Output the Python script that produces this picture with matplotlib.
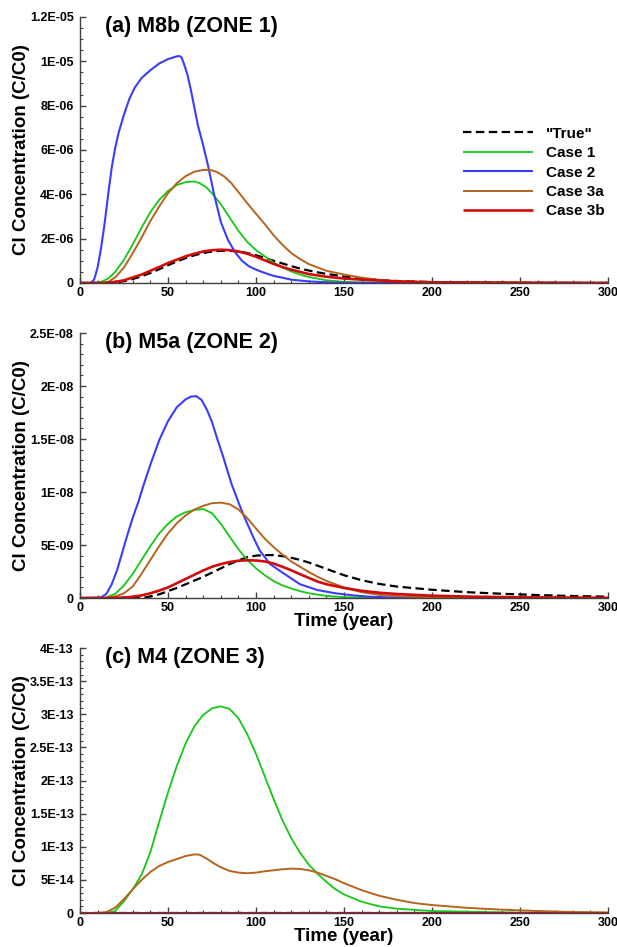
import numpy as np
import matplotlib
matplotlib.use('Agg')
import matplotlib.pyplot as plt
from matplotlib.ticker import MultipleLocator, FuncFormatter

plt.rcParams['font.family'] = ['Liberation Sans', 'DejaVu Sans']
plt.rcParams['font.weight'] = 'bold'

# ---------------- panel (a) M8b (ZONE 1), values in 1E-06
t_true_a = [0,18,25,30,35,40,45,50,55,60,65,70,75,80,85,90,95,100,105,110,115,120,125,130,135,140,150,160,170,180,200,250,300]
v_true_a = [0,0,0.08,0.18,0.3,0.45,0.62,0.8,0.97,1.12,1.25,1.35,1.42,1.45,1.45,1.42,1.35,1.25,1.13,1.0,0.88,0.76,0.65,0.56,0.48,0.41,0.29,0.2,0.13,0.09,0.04,0.01,0]
t_c1_a = [0,8,12,16,20,25,30,35,40,45,50,55,60,65,68,72,76,80,85,90,95,100,105,110,115,120,125,130,140,150,160,200,300]
v_c1_a = [0,0,0.05,0.2,0.5,1.05,1.75,2.5,3.2,3.75,4.15,4.42,4.55,4.58,4.5,4.3,3.95,3.55,2.95,2.35,1.85,1.48,1.2,0.92,0.7,0.52,0.38,0.27,0.12,0.05,0.02,0,0]
t_c2_a = [0,6,8,10,12,14,16,18,20,22,25,28,31,35,40,45,50,54,56,57.5,59,61,63,65,67,70,73,76,80,84,88,92,96,100,105,110,120,130,140,150,200,300]
v_c2_a = [0,0,0.15,0.7,1.6,2.7,4.0,5.2,6.1,6.8,7.6,8.3,8.8,9.25,9.6,9.9,10.1,10.2,10.24,10.2,9.9,9.4,8.7,7.9,7.1,6.2,5.2,4.05,2.75,1.95,1.4,1.0,0.75,0.6,0.45,0.32,0.15,0.07,0.03,0.01,0,0]
t_c3a_a = [0,12,16,20,25,30,35,40,45,50,55,60,65,70,74,78,82,86,90,95,100,105,110,115,120,125,130,140,150,160,170,180,200,250,300]
v_c3a_a = [0,0,0.05,0.25,0.7,1.35,2.05,2.8,3.45,4.05,4.5,4.82,5.02,5.1,5.1,5.0,4.8,4.5,4.1,3.6,3.12,2.65,2.15,1.72,1.35,1.08,0.85,0.55,0.38,0.24,0.14,0.08,0.03,0.01,0]
t_c3b_a = [0,14,20,25,30,35,40,45,50,55,60,65,70,75,80,85,90,95,100,105,110,115,120,125,130,140,150,160,170,180,200,250,300]
v_c3b_a = [0,0,0.05,0.12,0.25,0.38,0.55,0.72,0.9,1.05,1.2,1.32,1.42,1.48,1.5,1.48,1.42,1.32,1.18,1.02,0.86,0.72,0.6,0.5,0.4,0.28,0.2,0.15,0.11,0.07,0.03,0.01,0]

# ---------------- panel (b) M5a (ZONE 2), values in 1E-09
t_true_b = [0,35,40,45,50,55,60,65,70,75,80,85,90,95,100,105,110,115,120,125,130,135,140,150,160,170,180,200,220,240,260,280,300]
v_true_b = [0,0,0.15,0.35,0.65,0.95,1.3,1.65,2.0,2.4,2.8,3.2,3.55,3.85,4.0,4.05,4.05,3.95,3.8,3.6,3.35,3.05,2.75,2.15,1.68,1.33,1.08,0.78,0.55,0.4,0.28,0.19,0.13]
t_c1_b = [0,14,20,25,30,35,40,45,50,55,60,65,70,75,80,85,90,95,100,105,110,115,120,125,130,140,150,160,200,300]
v_c1_b = [0,0,0.4,1.2,2.3,3.6,4.9,6.1,7.0,7.7,8.1,8.3,8.4,8.0,7.0,5.8,4.6,3.6,2.8,2.15,1.6,1.2,0.9,0.65,0.45,0.2,0.08,0.03,0,0]
t_c2_b = [0,12,15,18,21,24,27,30,33,36,40,45,50,55,60,63,66,69,72,75,78,81,86,91,94,98,102,108,115,125,135,145,155,165,180,200,300]
v_c2_b = [0,0.05,0.4,1.3,2.6,4.3,6.0,7.6,9.0,10.6,12.6,14.9,16.7,18.0,18.75,19.0,19.05,18.7,17.8,16.6,15.0,13.5,10.8,8.6,7.4,5.9,4.5,3.2,2.4,1.3,0.75,0.45,0.25,0.12,0.04,0,0]
t_c3a_b = [0,14,20,25,30,35,40,45,50,55,60,65,70,75,80,85,90,95,100,105,110,115,120,125,130,135,140,145,150,160,170,180,190,200,250,300]
v_c3a_b = [0,0,0.15,0.45,1.1,2.3,3.6,4.9,6.1,7.05,7.8,8.35,8.7,8.95,9.0,8.85,8.35,7.55,6.55,5.6,4.8,4.1,3.45,2.95,2.45,2.0,1.62,1.3,1.0,0.55,0.3,0.18,0.12,0.08,0.02,0]
t_c3b_b = [0,18,25,30,35,40,45,50,55,60,65,70,75,80,85,90,95,100,105,110,115,120,125,130,135,140,150,160,170,180,200,225,250,275,300]
v_c3b_b = [0,0,0.05,0.12,0.25,0.45,0.7,1.0,1.4,1.8,2.2,2.6,2.95,3.2,3.4,3.52,3.56,3.54,3.45,3.25,2.95,2.62,2.25,1.9,1.55,1.3,0.95,0.68,0.5,0.38,0.22,0.12,0.07,0.04,0.02]

# ---------------- panel (c) M4 (ZONE 3), values in 1E-14
t_true_c = [0,300]
v_true_c = [0,0]
t_c1_c = [0,15,20,25,30,35,40,45,50,55,60,65,70,75,80,85,90,95,100,105,110,115,120,125,130,135,140,145,150,160,170,180,200,250,300]
v_c1_c = [0,0,0.3,1.8,3.6,5.8,9.2,13.8,18.2,22.2,25.6,28.2,29.9,30.9,31.2,30.8,29.4,27.0,24.0,20.6,17.2,14.0,11.3,9.1,7.3,5.9,4.7,3.6,2.8,1.7,1.0,0.65,0.3,0.05,0]
t_c2_c = [0,300]
v_c2_c = [0,0]
t_c3a_c = [0,10,15,20,25,30,35,40,45,50,55,60,65,68,72,76,80,85,90,95,100,105,110,115,120,125,130,135,140,145,150,160,170,180,190,200,220,240,260,280,300]
v_c3a_c = [0,0,0.15,0.8,2.1,3.6,5.0,6.2,7.1,7.7,8.15,8.6,8.85,8.8,8.2,7.5,6.9,6.35,6.1,6.0,6.1,6.3,6.45,6.6,6.7,6.65,6.45,6.1,5.6,5.1,4.5,3.45,2.6,2.0,1.5,1.2,0.78,0.5,0.3,0.15,0.08]
t_c3b_c = [0,300]
v_c3b_c = [0,0]

labels = ['"True"', 'Case 1', 'Case 2', 'Case 3a', 'Case 3b']
colores = ['black', '#14c814', '#3c3cff', '#b4641e', '#d20a0a']
anchos = [1.6, 1.3, 1.5, 1.4, 1.9]

paneles = [
    ('(a) M8b (ZONE 1)', 1e-6, 1.2e-5, 2e-6, 5e-7,
     [(t_true_a, v_true_a), (t_c1_a, v_c1_a), (t_c2_a, v_c2_a), (t_c3a_a, v_c3a_a), (t_c3b_a, v_c3b_a)],
     [0.1297, 0.7012, 0.8558, 0.2809]),
    ('(b) M5a (ZONE 2)', 1e-9, 2.5e-8, 5e-9, 1e-9,
     [(t_true_b, v_true_b), (t_c1_b, v_c1_b), (t_c2_b, v_c2_b), (t_c3a_b, v_c3a_b), (t_c3b_b, v_c3b_b)],
     [0.1297, 0.3685, 0.8558, 0.2798]),
    ('(c) M4 (ZONE 3)', 1e-14, 4e-13, 5e-14, 1e-14,
     [(t_true_c, v_true_c), (t_c1_c, v_c1_c), (t_c2_c, v_c2_c), (t_c3a_c, v_c3a_c), (t_c3b_c, v_c3b_c)],
     [0.1297, 0.0359, 0.8558, 0.2798]),
]


def tecplot_fmt(v, pos):
    if abs(v) < 1e-30:
        return '0'
    m, e = f'{v:.1E}'.split('E')
    m = m.rstrip('0').rstrip('.')
    return f'{m}E{e}'


fig = plt.figure(figsize=(6.17, 9.47), dpi=100)

for k, (titulo, escala, ymax, ymaj, ymin, series, pos) in enumerate(paneles):
    ax = fig.add_axes(pos)
    for j, (t, v) in enumerate(series):
        ls = (0, (3.8, 2.0)) if j == 0 else '-'
        ax.plot(t, np.array(v) * escala, color=colores[j], lw=anchos[j], ls=ls,
                label=labels[j], solid_capstyle='butt', solid_joinstyle='round')
    ax.set_xlim(0, 300)
    ax.set_ylim(0, ymax)
    ax.xaxis.set_major_locator(MultipleLocator(50))
    ax.xaxis.set_minor_locator(MultipleLocator(10))
    ax.yaxis.set_major_locator(MultipleLocator(ymaj))
    ax.yaxis.set_minor_locator(MultipleLocator(ymin))
    ax.yaxis.set_major_formatter(FuncFormatter(tecplot_fmt))
    ax.spines['top'].set_visible(False)
    ax.spines['right'].set_visible(False)
    for s in ['left', 'bottom']:
        ax.spines[s].set_color('#404040')
        ax.spines[s].set_linewidth(1.0)
    ax.tick_params(which='both', direction='in', color='#404040', labelsize=9)
    ax.tick_params(which='major', length=4, width=1.0)
    ax.tick_params(axis='y', which='major', pad=4.5)
    ax.tick_params(axis='x', which='major', pad=3)
    ax.tick_params(which='minor', length=2.5, width=0.8)
    for lab in ax.get_xticklabels() + ax.get_yticklabels():
        lab.set_fontweight('bold')
    ax.set_ylabel('Cl Concentration (C/C0)', fontsize=13.5, fontweight='bold')
    ax.yaxis.set_label_coords(-0.095, 0.5)
    ax.text(0.047, 0.963, titulo, transform=ax.transAxes, fontsize=15.5,
            fontweight='bold', va='center', ha='left')
    if k > 0:
        ax.set_xlabel('Time (year)', fontsize=13.5, fontweight='bold')
        ax.xaxis.set_label_coords(0.5, -0.057)
    if k == 0:
        ax.legend(loc='upper left', bbox_to_anchor=(0.725, 0.587), frameon=False,
                  fontsize=11, handlelength=4.6, handletextpad=0.85,
                  labelspacing=0.35, borderpad=0, borderaxespad=0)

fig.savefig('out.png', dpi=100)
